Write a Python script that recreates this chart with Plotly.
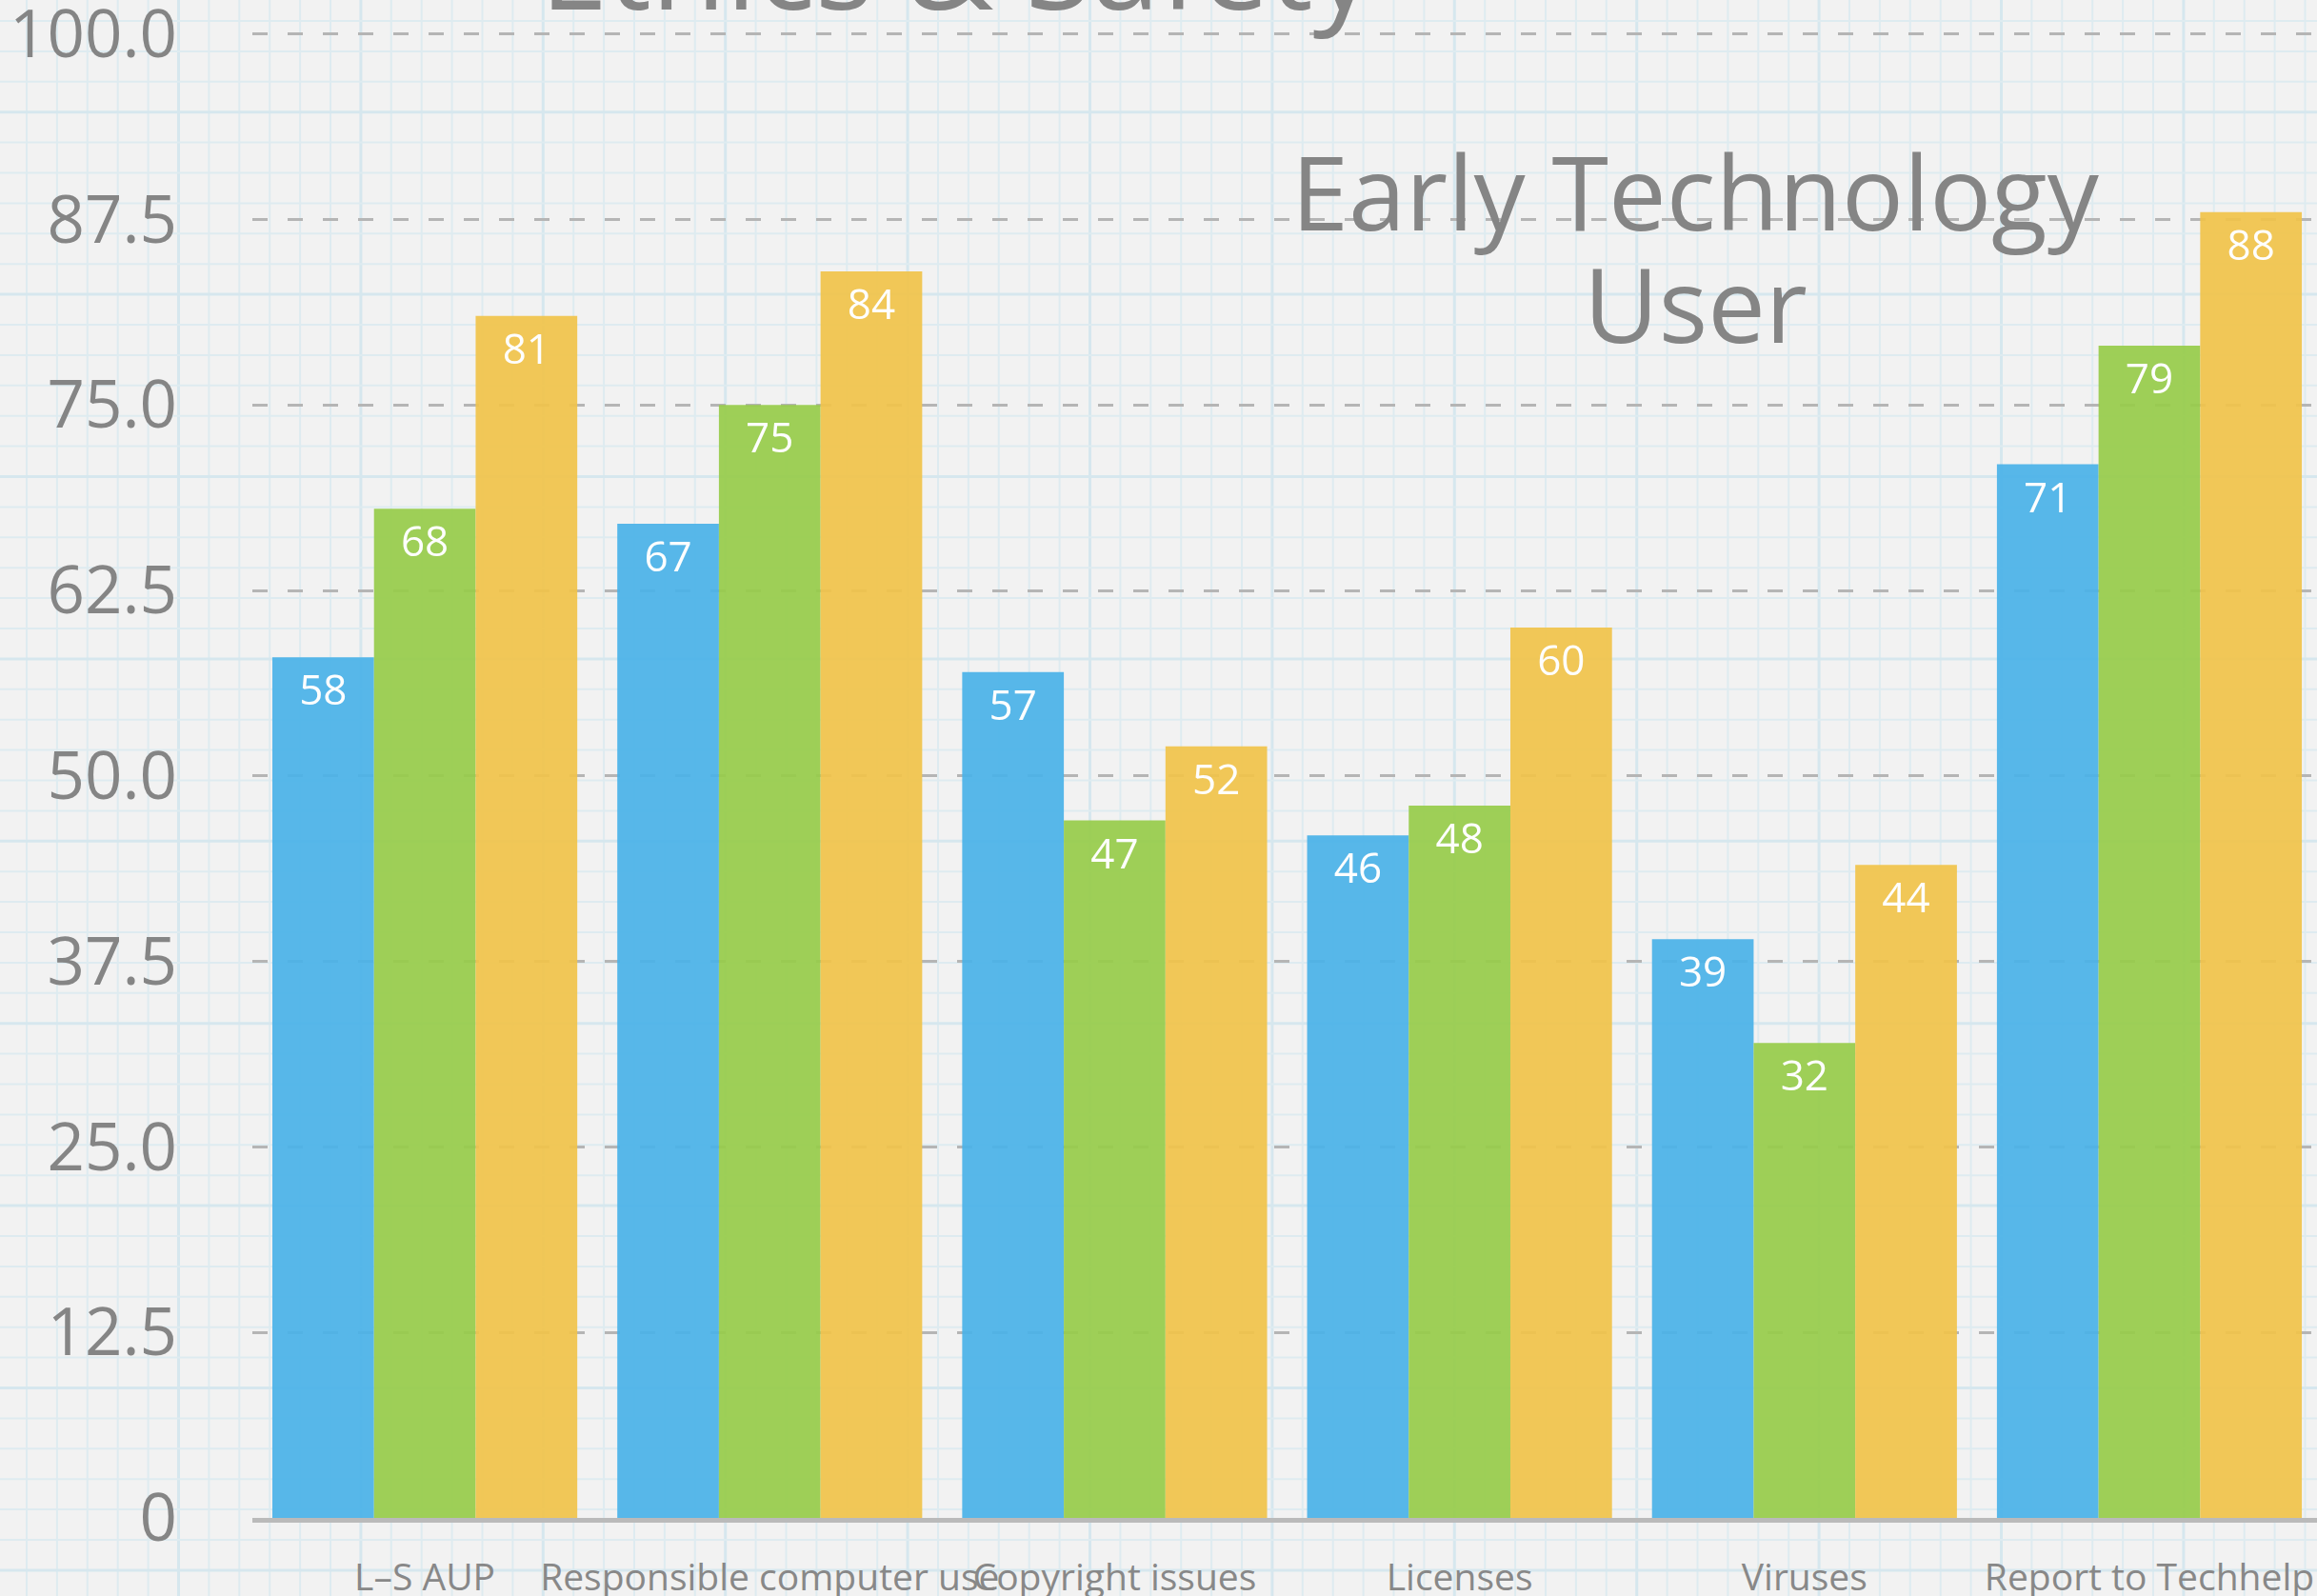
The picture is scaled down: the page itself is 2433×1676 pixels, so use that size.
import plotly.graph_objects as go

categories = ["L–S AUP", "Responsible computer use", "Copyright issues", "Licenses", "Viruses", "Report to Techhelp"]
series_a = [58, 67, 57, 46, 39, 71]
series_b = [68, 75, 47, 48, 32, 79]
series_c = [81, 84, 52, 60, 44, 88]
series_names = ["Series 1", "Series 2", "Series 3"]
y_tick_values = [0, 12.5, 25, 37.5, 50, 62.5, 75, 87.5, 100]
y_tick_labels = ["0", "12.5", "25.0", "37.5", "50.0", "62.5", "75.0", "87.5", "100.0"]

W, H = 2433, 1676
ML, MR, MT, MB = 265, 0, 31, 82
PW = W - ML - MR
PH = H - MT - MB

def px_to_paper_x(x):
    return (x - ML) / PW

def px_to_paper_y(y):
    return (H - MB - y) / PH

colors = ["#4AB2E9", "#97CC49", "#F1C349"]
font_family = "Open Sans"

fig = go.Figure()
for name, vals, col in zip(series_names, [series_a, series_b, series_c], colors):
    fig.add_trace(go.Bar(
        x=categories, y=vals, name=name,
        marker=dict(color=col, line=dict(width=0)), opacity=0.92,
        text=[str(v) for v in vals], textposition="inside", insidetextanchor="end",
        textangle=0, constraintext="none",
        insidetextfont=dict(family=font_family, size=44, color="white"),
        showlegend=False,
    ))

# graph-paper background decoration
shapes = []
step = 31.9
k = 0
while 28 + k * step < W:
    x = 28 + k * step
    major = (k % 6 == 5)
    shapes.append(dict(type="line", xref="paper", yref="paper",
                       x0=px_to_paper_x(x), x1=px_to_paper_x(x),
                       y0=px_to_paper_y(0), y1=px_to_paper_y(H),
                       line=dict(color="#d6e7ee" if major else "#deebf0", width=3 if major else 2),
                       layer="below"))
    k += 1
k = 0
while 22 + k * step < H:
    y = 22 + k * step
    major = (k % 6 == 3)
    shapes.append(dict(type="line", xref="paper", yref="paper",
                       x0=px_to_paper_x(0), x1=px_to_paper_x(W),
                       y0=px_to_paper_y(y), y1=px_to_paper_y(y),
                       line=dict(color="#d6e7ee" if major else "#deebf0", width=3 if major else 2),
                       layer="below"))
    k += 1

annotations = [
    dict(text="Ethics & Safety", xref="paper", yref="paper",
         x=px_to_paper_x(1005), y=px_to_paper_y(-40), xanchor="center", yanchor="middle",
         showarrow=False, font=dict(family=font_family, size=128, color="#858585")),
    dict(text="Early Technology", xref="paper", yref="paper",
         x=px_to_paper_x(1780), y=px_to_paper_y(200), xanchor="center", yanchor="middle",
         showarrow=False, font=dict(family=font_family, size=108, color="#858585")),
    dict(text="User", xref="paper", yref="paper",
         x=px_to_paper_x(1780), y=px_to_paper_y(318), xanchor="center", yanchor="middle",
         showarrow=False, font=dict(family=font_family, size=108, color="#858585")),
]

fig.update_layout(
    width=W, height=H, autosize=False,
    margin=dict(l=ML, r=MR, t=MT, b=MB, pad=0),
    paper_bgcolor="#f2f2f2", plot_bgcolor="rgba(0,0,0,0)",
    barmode="group", bargap=0.116, bargroupgap=0,
    shapes=shapes, annotations=annotations,
    font=dict(family=font_family, color="#858585"),
    xaxis=dict(type="category", range=[-0.5, 5.486], showgrid=False, zeroline=False,
               showline=True, linecolor="#bababa", linewidth=5, ticks="",
               tickangle=0, tickfont=dict(family=font_family, size=39, color="#888888"),
               ticklabelstandoff=24, ticklabeloverflow="allow", automargin=False),
    yaxis=dict(range=[0, 100.3], tickvals=y_tick_values, ticktext=y_tick_labels,
               showgrid=True, gridcolor="#b5b5b5", gridwidth=3, griddash="16px,21px",
               zeroline=False, showline=False, ticks="",
               tickfont=dict(family=font_family, size=69, color="#858585"),
               ticklabelstandoff=78, ticklabeloverflow="allow", automargin=False),
)

fig.write_html("out.html", config={"displayModeBar": False},
               post_script="document.body.style.margin='0px';document.body.style.overflow='hidden';")
